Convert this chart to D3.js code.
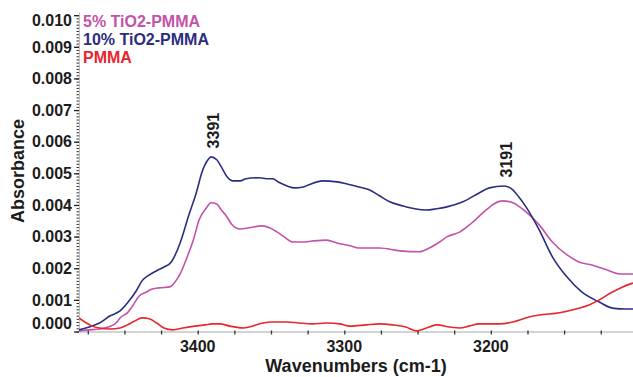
<!DOCTYPE html>
<html>
<head>
<meta charset="utf-8">
<script src="https://cdn.jsdelivr.net/npm/d3@7"></script>
<style>
  html, body { margin: 0; padding: 0; background: #fff; }
  svg { display: block; }
  text { font-family: "Liberation Sans", Arial, Helvetica, sans-serif; font-weight: bold; fill: #1c1c1c; }
</style>
</head>
<body>
<svg id="chart" width="633" height="377"></svg>
<script>
// FTIR absorbance spectra in the O–H stretching region

// 10% TiO2-PMMA
const tio2_10_wn = [3481,3474,3467,3460,3453,3448,3442,3438,3433,3428,3423,3418,3412,3406,3401,3397,3393,3391,3387,3384,3380,3376,3371,3367,3358,3353,3349,3344,3339,3334,3328,3324,3315,3305,3296,3290,3283,3276,3269,3260,3252,3244,3237,3230,3219,3208,3201,3191,3185,3181,3176,3167,3158,3148,3138,3126,3117,3108,3103];
const tio2_10_abs = [0.00005,0.00014,0.00027,0.00049,0.00065,0.00090,0.00128,0.00160,0.00179,0.00192,0.00204,0.00220,0.00280,0.00369,0.00438,0.00505,0.00543,0.00552,0.00543,0.00521,0.00489,0.00476,0.00476,0.00483,0.00486,0.00483,0.00483,0.00470,0.00460,0.00454,0.00457,0.00464,0.00476,0.00473,0.00464,0.00457,0.00448,0.00429,0.00410,0.00397,0.00388,0.00384,0.00388,0.00394,0.00410,0.00438,0.00454,0.00460,0.00448,0.00426,0.00394,0.00321,0.00236,0.00172,0.00125,0.00093,0.00074,0.00071,0.00071];

// 5% TiO2-PMMA
const tio2_5_wn = [3481,3474,3467,3461,3455,3453,3448,3444,3440,3435,3431,3426,3419,3416,3412,3408,3403,3399,3394,3391,3387,3384,3380,3377,3371,3365,3356,3351,3346,3341,3335,3328,3322,3312,3305,3296,3290,3276,3262,3249,3242,3235,3230,3221,3213,3203,3198,3192,3185,3176,3167,3158,3148,3140,3131,3121,3112,3103];
const tio2_5_abs = [0.00002,0.00005,0.00008,0.00014,0.00030,0.00043,0.00059,0.00084,0.00112,0.00125,0.00134,0.00138,0.00141,0.00153,0.00182,0.00226,0.00289,0.00353,0.00391,0.00407,0.00403,0.00385,0.00362,0.00340,0.00324,0.00328,0.00334,0.00328,0.00315,0.00299,0.00283,0.00283,0.00286,0.00289,0.00280,0.00271,0.00264,0.00264,0.00255,0.00252,0.00264,0.00283,0.00299,0.00315,0.00343,0.00385,0.00403,0.00413,0.00407,0.00378,0.00337,0.00283,0.00242,0.00220,0.00210,0.00195,0.00182,0.00182];

// neat PMMA
const pmma_wn = [3481,3477,3472,3467,3460,3453,3448,3443,3438,3433,3428,3423,3417,3410,3402,3395,3390,3385,3378,3369,3365,3358,3350,3339,3331,3322,3312,3303,3296,3285,3276,3267,3258,3251,3244,3237,3228,3221,3215,3208,3194,3185,3174,3167,3153,3142,3133,3126,3117,3110,3103];
const pmma_abs = [0.00043,0.00030,0.00017,0.00011,0.00008,0.00011,0.00021,0.00033,0.00043,0.00040,0.00027,0.00011,0.00005,0.00011,0.00017,0.00021,0.00024,0.00024,0.00017,0.00011,0.00014,0.00024,0.00030,0.00030,0.00027,0.00024,0.00027,0.00024,0.00017,0.00021,0.00024,0.00021,0.00014,0.00002,0.00011,0.00021,0.00014,0.00011,0.00017,0.00024,0.00024,0.00030,0.00046,0.00052,0.00059,0.00071,0.00084,0.00100,0.00125,0.00141,0.00153];

const seriesNames = ["5% TiO2-PMMA", "10% TiO2-PMMA", "PMMA"];
const seriesColors = ["#c352a9", "#2b2e80", "#e8262b"];

const xTickLabels = [3400, 3300, 3200];
const yTickLabels = ["0.000","0.001","0.002","0.003","0.004","0.005","0.006","0.007","0.008","0.009","0.010"];

const peakLabels = [3391, 3191];

const series = [
  { name: seriesNames[0], color: seriesColors[0], wn: tio2_5_wn, abs: tio2_5_abs },
  { name: seriesNames[1], color: seriesColors[1], wn: tio2_10_wn, abs: tio2_10_abs },
  { name: seriesNames[2], color: seriesColors[2], wn: pmma_wn, abs: pmma_abs }
];

const svg = d3.select("#chart");
const plotLeft = 79, plotRight = 633, plotTop = 12, plotBottom = 331.5;

const x = d3.scaleLinear().domain([3481, 3103]).range([plotLeft, plotRight]);
const y = d3.scaleLinear().domain([0, 0.0101]).range([plotBottom, plotTop]);

// clip region for the spectra
svg.append("defs").append("clipPath").attr("id", "plotClip")
  .append("rect").attr("x", plotLeft).attr("y", 0)
  .attr("width", plotRight - plotLeft).attr("height", plotBottom + 2);

// x axis: light baseline with short dark ticks every 25 cm-1
const xMinor = d3.range(3475, 3100, -25);
const xAxis = svg.append("g").attr("transform", `translate(0,${plotBottom})`)
  .call(d3.axisBottom(x).tickValues(xMinor).tickSize(3).tickSizeOuter(0).tickFormat(""));
xAxis.select(".domain").attr("stroke", "#a8a8a8").attr("stroke-width", 1.2);
xAxis.selectAll(".tick line").attr("stroke", "#333").attr("stroke-width", 1.3).attr("y1", -1);

svg.append("g").selectAll("text").data(xTickLabels).join("text")
  .attr("x", d => x(d)).attr("y", 352)
  .attr("text-anchor", "middle").attr("font-size", 16)
  .text(d => d);

// y axis: dotted look from dense minor ticks, longer majors
const yMinor = d3.range(0, 101).map(i => i / 10000);
const yAxis = svg.append("g").attr("transform", `translate(${plotLeft},0)`)
  .call(d3.axisLeft(y).tickValues(yMinor).tickSize(2.5).tickSizeOuter(0).tickFormat(""));
yAxis.select(".domain").attr("stroke", "#bdbdbd").attr("stroke-width", 1);
yAxis.selectAll(".tick line").attr("stroke", "#333").attr("stroke-width", 1);

const yMajorVals = yTickLabels.map(Number);
const yMajor = svg.append("g").attr("transform", `translate(${plotLeft},0)`)
  .call(d3.axisLeft(y).tickValues(yMajorVals).tickSize(5).tickSizeOuter(0).tickFormat(""));
yMajor.select(".domain").remove();
yMajor.selectAll(".tick line").attr("stroke", "#222").attr("stroke-width", 1.3);

svg.append("g").selectAll("text").data(yTickLabels).join("text")
  .attr("x", 72)
  .attr("y", d => Math.min(Math.max(y(+d), 20), 323))
  .attr("dy", "0.36em")
  .attr("text-anchor", "end").attr("font-size", 16)
  .text(d => d);

// axis titles
svg.append("text")
  .attr("transform", "translate(24,171) rotate(-90)")
  .attr("text-anchor", "middle").attr("font-size", 18)
  .text("Absorbance");
svg.append("text")
  .attr("x", 356).attr("y", 372)
  .attr("text-anchor", "middle").attr("font-size", 18)
  .text("Wavenumbers (cm-1)");

// spectra
const line = d3.line().curve(d3.curveMonotoneX)
  .x(d => x(d[0])).y(d => y(d[1]));
const plot = svg.append("g").attr("clip-path", "url(#plotClip)");
series.forEach(s => {
  const pts = s.wn.map((w, i) => [w, s.abs[i]]);
  plot.append("path").datum(pts)
    .attr("fill", "none").attr("stroke", s.color)
    .attr("stroke-width", 1.6).attr("stroke-linejoin", "round")
    .attr("d", line);
});

// peak annotations on the 10% spectrum
peakLabels.forEach(p => {
  const i = tio2_10_wn.indexOf(p);
  const px = x(p) + 2, py = y(tio2_10_abs[i]) - 8.5;
  svg.append("text")
    .attr("transform", `translate(${px},${py}) rotate(-90)`)
    .attr("dy", "0.36em").attr("font-size", 16)
    .text(p);
});

// legend
series.forEach((s, i) => {
  svg.append("text")
    .attr("x", 83).attr("y", 21 + i * 18).attr("dy", "0.36em")
    .attr("font-size", 16).style("fill", s.color)
    .text(s.name);
});
</script>
</body>
</html>
